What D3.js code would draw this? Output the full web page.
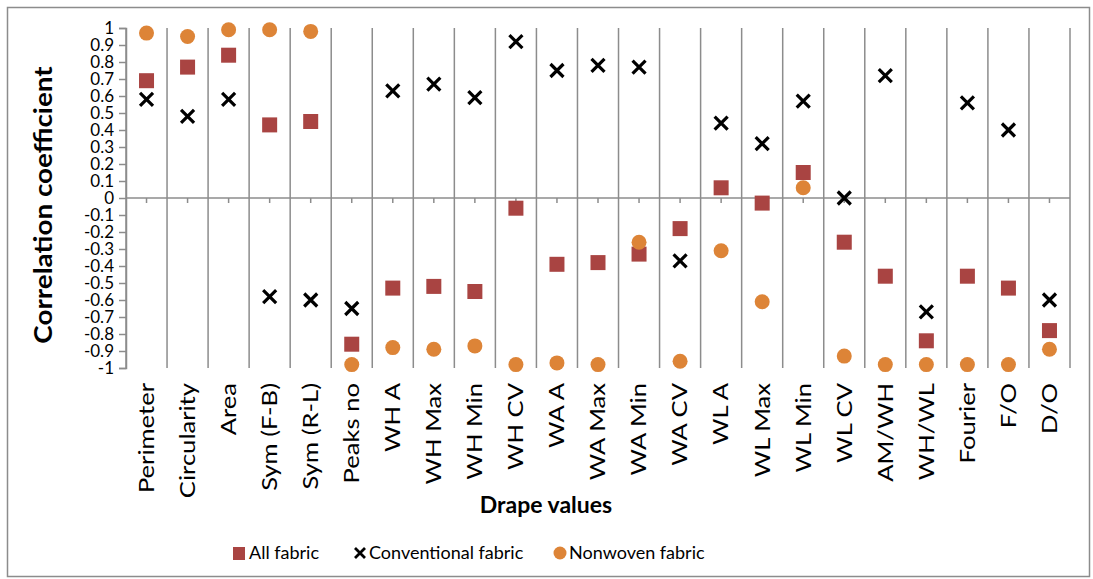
<!DOCTYPE html>
<html>
<head>
<meta charset="utf-8">
<script src="https://cdn.jsdelivr.net/npm/d3@7"></script>
<style>
  body { margin: 0; background: #fff; }
  svg { display: block; font-family: Lato, "Open Sans", sans-serif; }
</style>
</head>
<body>
<div class="js-drape-chart"></div>
<script>
(function() {
  // drape parameters along the category axis
  var categories = ['Perimeter', 'Circularity', 'Area', 'Sym (F-B)', 'Sym (R-L)', 'Peaks no',
    'WH A', 'WH Max', 'WH Min', 'WH CV', 'WA A', 'WA Max', 'WA Min', 'WA CV',
    'WL A', 'WL Max', 'WL Min', 'WL CV', 'AM/WH', 'WH/WL', 'Fourier', 'F/O', 'D/O'];

  var allFabric = [0.69, 0.77, 0.84, 0.43, 0.45, -0.86, -0.53, -0.52, -0.55, -0.06, -0.39, -0.38,
    -0.33, -0.18, 0.06, -0.03, 0.15, -0.26, -0.46, -0.84, -0.46, -0.53, -0.78];
  var conventionalFabric = [0.58, 0.48, 0.58, -0.58, -0.60, -0.65, 0.63, 0.67, 0.59, 0.92, 0.75, 0.78,
    0.77, -0.37, 0.44, 0.32, 0.57, 0.00, 0.72, -0.67, 0.56, 0.40, -0.60];
  var nonwovenFabric = [0.97, 0.95, 0.99, 0.99, 0.98, -0.98, -0.88, -0.89, -0.87, -0.98, -0.97, -0.98,
    -0.26, -0.96, -0.31, -0.61, 0.06, -0.93, -0.98, -0.98, -0.98, -0.98, -0.89];

  var yTicks = d3.range(-10, 11).map(d => d / 10);

  var width = 1093
    , height = 579
    , plotLeft = 126
    , plotRight = 1070
    , plotTop = 28
    , plotBottom = 368
    , gridColor = '#8c8c8c'
    , squareColor = '#a94442'
    , circleColor = '#dd8437'
    ;

  var svg = d3.select('.js-drape-chart')
    .append('svg')
      .attr('width', width)
      .attr('height', height);

  // outer chart border
  svg.append('rect')
    .attr('x', 7.5).attr('y', 7.5)
    .attr('width', 1082).attr('height', 569)
    .attr('fill', 'none')
    .attr('stroke', gridColor)
    .attr('stroke-width', 1.5);

  var x = d3.scaleBand()
        .domain(categories)
        .range([plotLeft, plotRight])
    , y = d3.scaleLinear()
        .domain([-1, 1])
        .range([plotBottom, plotTop])
    , cx = c => x(c) + x.bandwidth() / 2
    ;

  // vertical gridlines between categories
  var gridX = categories.map(c => x(c)).concat([x(categories[categories.length - 1]) + x.bandwidth()]);
  svg.append('g')
    .selectAll('line')
    .data(gridX)
    .enter()
    .append('line')
      .attr('x1', d => d).attr('x2', d => d)
      .attr('y1', y(1)).attr('y2', y(-1))
      .attr('stroke', gridColor)
      .attr('stroke-width', 1.5);

  // y axis
  var yAxis = svg.append('g')
    .attr('transform', 'translate(' + plotLeft + ',0)')
    .call(d3.axisLeft(y)
      .tickValues(yTicks)
      .tickSize(7)
      .tickPadding(5)
      .tickFormat(d => String(+d.toFixed(1))));
  yAxis.select('.domain').attr('stroke', gridColor).attr('stroke-width', 1.5);
  yAxis.selectAll('.tick line').attr('stroke', gridColor).attr('stroke-width', 1.5);
  yAxis.selectAll('.tick text')
    .attr('font-family', 'Lato, sans-serif')
    .attr('font-size', 17)
    .attr('fill', '#000');

  // category axis crossing at zero
  var xAxis = svg.append('g')
    .attr('transform', 'translate(0,' + y(0) + ')');
  xAxis.append('line')
    .attr('x1', plotLeft).attr('x2', plotRight)
    .attr('stroke', gridColor)
    .attr('stroke-width', 1.5);
  xAxis.selectAll('.tick')
    .data(categories)
    .enter()
    .append('line')
      .attr('x1', cx).attr('x2', cx)
      .attr('y1', 0).attr('y2', 5)
      .attr('stroke', gridColor)
      .attr('stroke-width', 1.5);

  // rotated category labels under the plot, stretched along the text like the source
  svg.append('g')
    .selectAll('text')
    .data(categories)
    .enter()
    .append('text')
      .attr('transform', d => 'translate(' + cx(d) + ',383) rotate(-90) scale(1.22,1)')
      .attr('dy', '0.35em')
      .attr('text-anchor', 'end')
      .attr('font-size', 21)
      .text(d => d);

  // axis titles
  svg.append('text')
    .attr('transform', 'translate(52,205) rotate(-90) scale(1.16,1)')
    .attr('text-anchor', 'middle')
    .attr('font-weight', 'bold')
    .attr('font-size', 24)
    .text('Correlation coefficient');

  svg.append('text')
    .attr('x', 546)
    .attr('y', 513)
    .attr('text-anchor', 'middle')
    .attr('font-weight', 'bold')
    .attr('font-size', 23)
    .text('Drape values');

  // markers
  var gMarks = svg.append('g');

  gMarks.selectAll('.all')
    .data(allFabric)
    .enter()
    .append('rect')
      .attr('x', (d, i) => cx(categories[i]) - 7.5)
      .attr('y', d => y(d) - 7.5)
      .attr('width', 15).attr('height', 15)
      .attr('fill', squareColor);

  gMarks.selectAll('.conv')
    .data(conventionalFabric)
    .enter()
    .append('path')
      .attr('d', (d, i) => {
        var px = cx(categories[i]), py = y(d), r = 6.5;
        return 'M' + (px - r) + ',' + (py - r) + 'L' + (px + r) + ',' + (py + r) +
          'M' + (px - r) + ',' + (py + r) + 'L' + (px + r) + ',' + (py - r);
      })
      .attr('stroke', '#000')
      .attr('stroke-width', 3.2)
      .attr('fill', 'none');

  gMarks.selectAll('.non')
    .data(nonwovenFabric)
    .enter()
    .append('circle')
      .attr('cx', (d, i) => cx(categories[i]))
      .attr('cy', d => y(d))
      .attr('r', 7.5)
      .attr('fill', circleColor);

  // legend
  var gKey = svg.append('g').attr('font-size', 18);
  var keyY = 553;

  gKey.append('rect')
    .attr('x', 233).attr('y', keyY - 6)
    .attr('width', 12).attr('height', 13)
    .attr('fill', squareColor);
  gKey.append('text')
    .attr('x', 249).attr('y', keyY).attr('dy', '0.35em')
    .text('All fabric');

  gKey.append('path')
    .attr('d', 'M355,' + (keyY - 5) + 'L365,' + (keyY + 5) + 'M355,' + (keyY + 5) + 'L365,' + (keyY - 5))
    .attr('stroke', '#000')
    .attr('stroke-width', 2.8);
  gKey.append('text')
    .attr('x', 369).attr('y', keyY).attr('dy', '0.35em')
    .text('Conventional fabric');

  gKey.append('circle')
    .attr('cx', 560).attr('cy', keyY)
    .attr('r', 6.5)
    .attr('fill', circleColor);
  gKey.append('text')
    .attr('x', 569).attr('y', keyY).attr('dy', '0.35em')
    .text('Nonwoven fabric');
})();
</script>
</body>
</html>
